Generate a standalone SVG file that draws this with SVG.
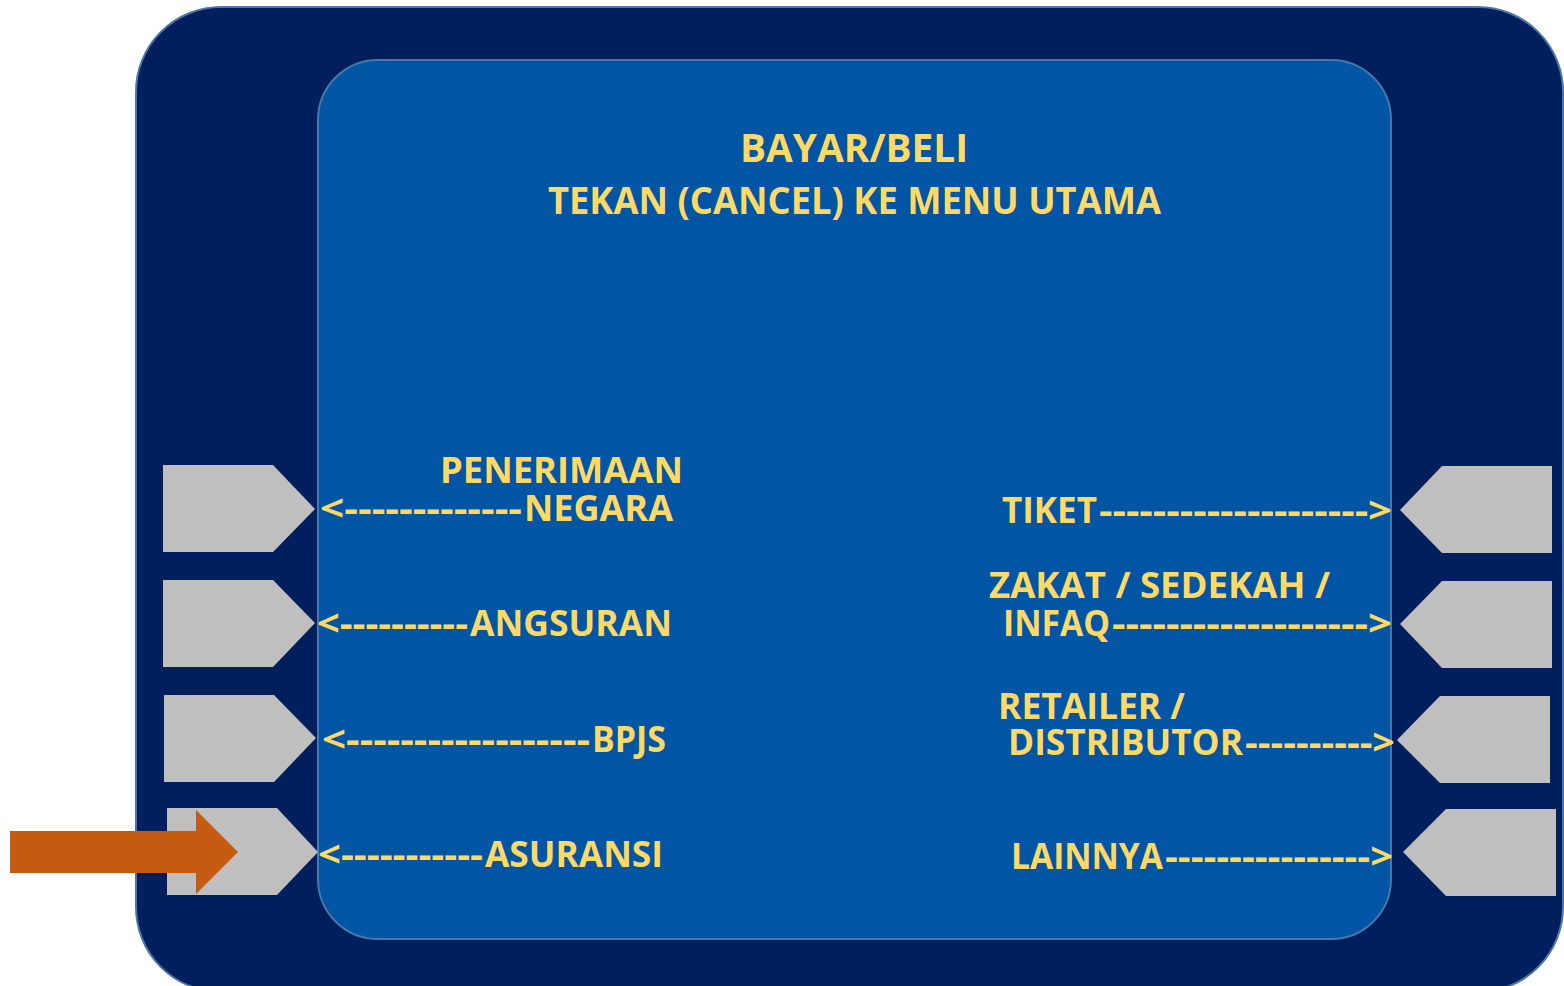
<svg xmlns="http://www.w3.org/2000/svg" width="1564" height="986" viewBox="0 0 1564 986">
<style>
.t{font-family:"Open Sans","Liberation Sans",sans-serif;font-weight:bold;fill:#ffd966;font-size:35px}
.h{font-size:40px}
.btn{fill:#bfbfbf}
</style>
<rect width="1564" height="986" fill="#ffffff"/>
<g id="outer-panel">
<rect x="136" y="7" width="1427" height="985" rx="85" ry="85" fill="#001f5c" stroke="#4a77a8" stroke-width="2"/>
</g>
<g id="screen">
<rect x="318" y="60" width="1073" height="879" rx="60" ry="60" fill="#0055a4" stroke="#4a77a8" stroke-width="2"/>
<text class="t h" x="740" y="162" textLength="228" lengthAdjust="spacingAndGlyphs">BAYAR/BELI</text>
<text class="t" x="548" y="214" style="font-size:37px" textLength="613" lengthAdjust="spacingAndGlyphs">TEKAN (CANCEL) KE MENU UTAMA</text>
</g>
<g id="btn-left-1"><polygon class="btn" points="163,465 273,465 315,509 273,552 163,552"/></g>
<g id="btn-left-2"><polygon class="btn" points="163,580 273,580 315,623 273,667 163,667"/></g>
<g id="btn-left-3"><polygon class="btn" points="164,695 274,695 316,738 274,782 164,782"/></g>
<g id="btn-left-4"><polygon class="btn" points="167,808 277,808 318,852 277,895 167,895"/></g>
<g id="btn-right-1"><polygon class="btn" points="1552,466 1442,466 1400,510 1442,553 1552,553"/></g>
<g id="btn-right-2"><polygon class="btn" points="1552,581 1442,581 1400,624 1442,668 1552,668"/></g>
<g id="btn-right-3"><polygon class="btn" points="1550,696 1440,696 1397,740 1440,783 1550,783"/></g>
<g id="btn-right-4"><polygon class="btn" points="1556,809 1446,809 1403,852 1446,896 1556,896"/></g>
<g id="label-penerimaan">
<text class="t"><tspan x="440" y="483" textLength="243" lengthAdjust="spacingAndGlyphs">PENERIMAAN</tspan><tspan x="320" y="521" textLength="202" lengthAdjust="spacingAndGlyphs">&lt;-------------</tspan><tspan x="524" y="521" textLength="149" lengthAdjust="spacingAndGlyphs">NEGARA</tspan></text>
</g>
<g id="label-angsuran"><text class="t" y="636"><tspan x="317" textLength="151" lengthAdjust="spacingAndGlyphs">&lt;----------</tspan><tspan x="470" textLength="202" lengthAdjust="spacingAndGlyphs">ANGSURAN</tspan></text></g>
<g id="label-bpjs"><text class="t" y="752"><tspan x="322" textLength="268" lengthAdjust="spacingAndGlyphs">&lt;------------------</tspan><tspan x="592" textLength="74" lengthAdjust="spacingAndGlyphs">BPJS</tspan></text></g>
<g id="label-asuransi"><text class="t" y="867"><tspan x="318" textLength="165" lengthAdjust="spacingAndGlyphs">&lt;-----------</tspan><tspan x="485" textLength="178" lengthAdjust="spacingAndGlyphs">ASURANSI</tspan></text></g>
<g id="label-tiket"><text class="t" y="523"><tspan x="1002" textLength="95" lengthAdjust="spacingAndGlyphs">TIKET</tspan><tspan x="1099" textLength="293" lengthAdjust="spacingAndGlyphs">--------------------&gt;</tspan></text></g>
<g id="label-zakat">
<text class="t"><tspan x="989" y="598" textLength="341" lengthAdjust="spacingAndGlyphs">ZAKAT / SEDEKAH /</tspan><tspan x="1003" y="636" textLength="107" lengthAdjust="spacingAndGlyphs">INFAQ</tspan><tspan x="1112" y="636" textLength="280" lengthAdjust="spacingAndGlyphs">-------------------&gt;</tspan></text>
</g>
<g id="label-retailer">
<text class="t"><tspan x="998" y="719" textLength="187" lengthAdjust="spacingAndGlyphs">RETAILER /</tspan><tspan x="1008" y="755" textLength="235" lengthAdjust="spacingAndGlyphs">DISTRIBUTOR</tspan><tspan x="1245" y="755" textLength="150" lengthAdjust="spacingAndGlyphs">----------&gt;</tspan></text>
</g>
<g id="label-lainnya"><text class="t" y="869"><tspan x="1011" textLength="152" lengthAdjust="spacingAndGlyphs">LAINNYA</tspan><tspan x="1165" textLength="228" lengthAdjust="spacingAndGlyphs">----------------&gt;</tspan></text></g>
<g id="connectors">
<polygon points="10,831 196,831 196,810 238,852 196,894 196,873 10,873" fill="#c55a11"/>
</g>
</svg>
